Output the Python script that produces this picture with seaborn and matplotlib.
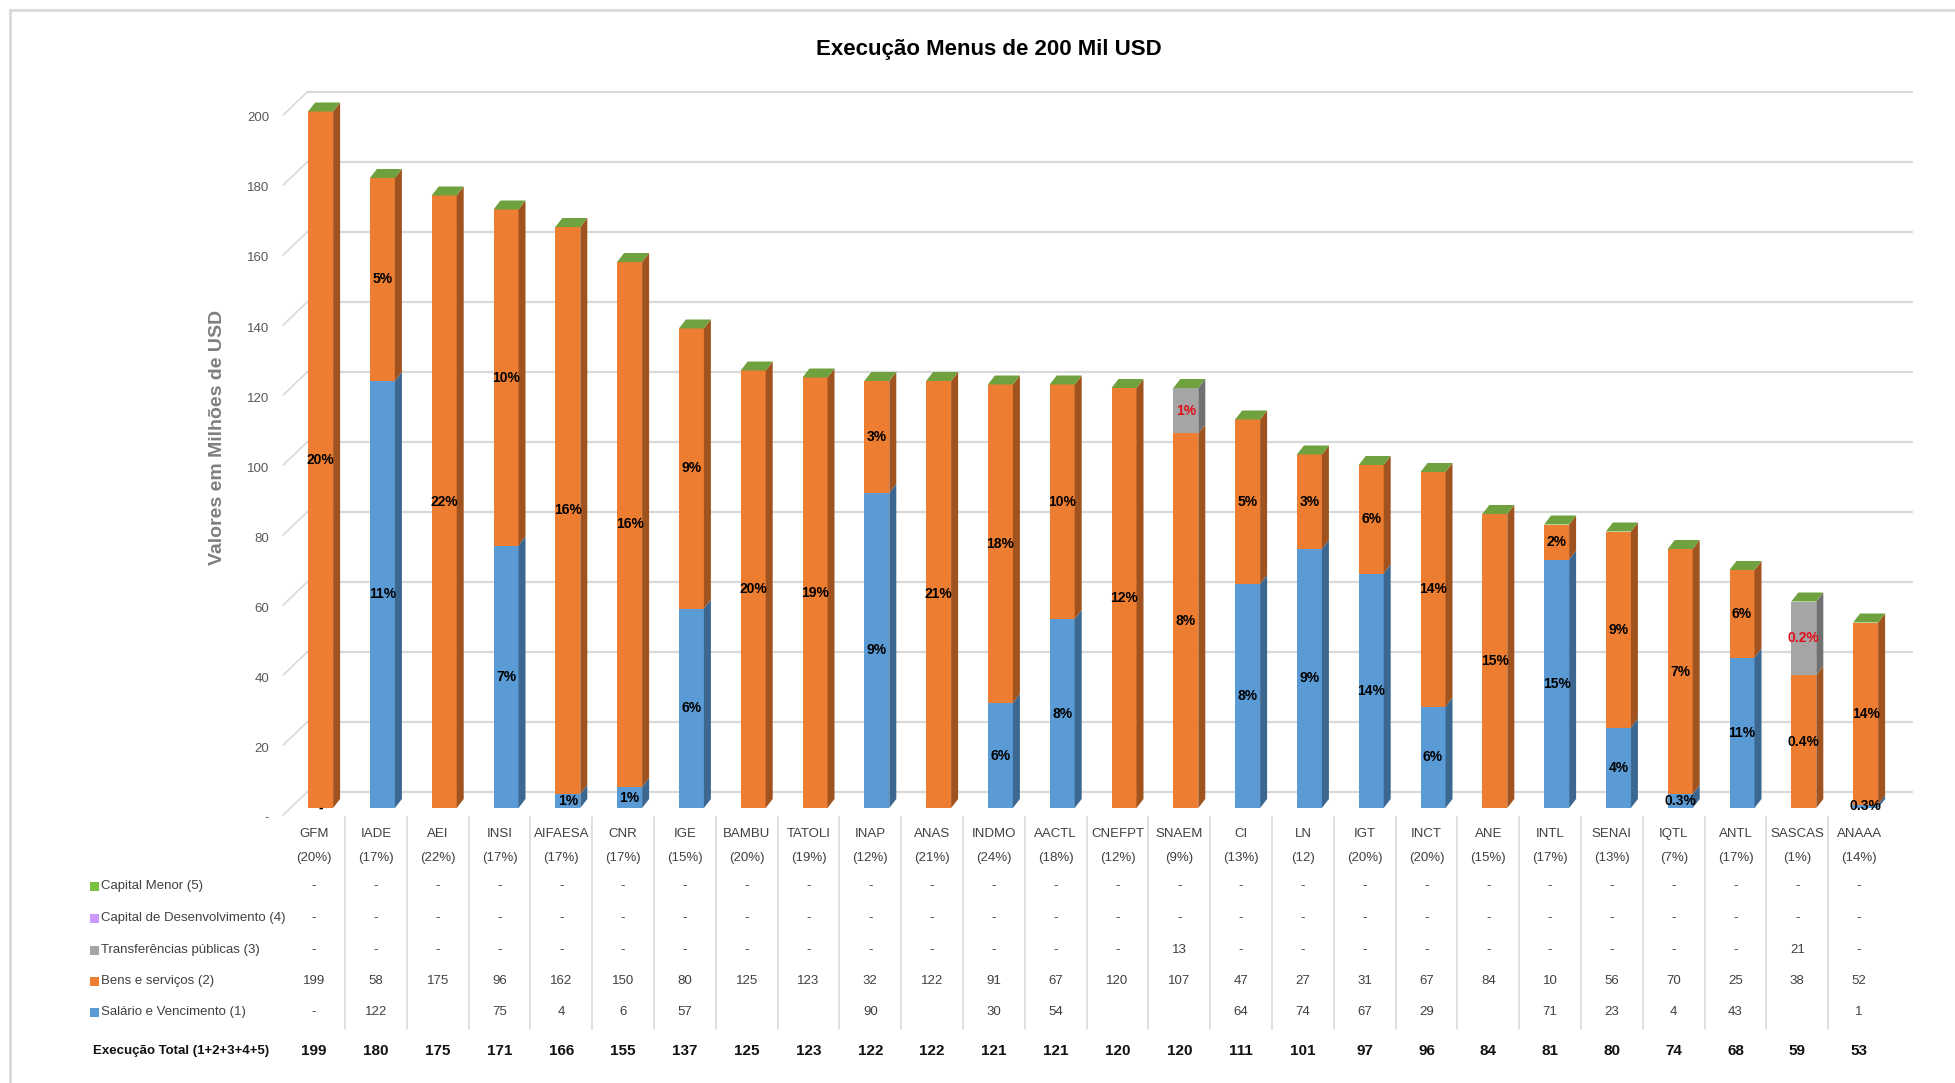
import matplotlib
matplotlib.use("Agg")
import matplotlib.pyplot as plt
from matplotlib.patches import Polygon, Rectangle
from matplotlib.lines import Line2D
from matplotlib.transforms import ScaledTranslation
import numpy as np
import pandas as pd
import seaborn as sns

# Chart data (values in millions of USD)
categories = ["GFM", "IADE", "AEI", "INSI", "AIFAESA", "CNR", "IGE", "BAMBU",
              "TATOLI", "INAP", "ANAS", "INDMO", "AACTL", "CNEFPT", "SNAEM", "CI",
              "LN", "IGT", "INCT", "ANE", "INTL", "SENAI", "IQTL", "ANTL",
              "SASCAS", "ANAAA"]
shares = ["(20%)", "(17%)", "(22%)", "(17%)", "(17%)", "(17%)", "(15%)", "(20%)",
          "(19%)", "(12%)", "(21%)", "(24%)", "(18%)", "(12%)", "(9%)", "(13%)",
          "(12)", "(20%)", "(20%)", "(15%)", "(17%)", "(13%)", "(7%)", "(17%)",
          "(1%)", "(14%)"]
salario = [0, 122, 0, 75, 4, 6, 57, 0, 0, 90, 0, 30, 54, 0, 0, 64,
           74, 67, 29, 0, 71, 23, 4, 43, 0, 1]
bens = [199, 58, 175, 96, 162, 150, 80, 125, 123, 32, 122, 91, 67, 120, 107, 47,
        27, 31, 67, 84, 10, 56, 70, 25, 38, 52]
transf = [0, 0, 0, 0, 0, 0, 0, 0, 0, 0, 0, 0, 0, 0, 13, 0,
          0, 0, 0, 0, 0, 0, 0, 0, 21, 0]
total = [199, 180, 175, 171, 166, 155, 137, 125, 123, 122, 122, 121, 121, 120, 120, 111,
         101, 97, 96, 84, 81, 80, 74, 68, 59, 53]

# what the data table shows in the salary / transfer rows
sal_table = ["-", "122", "", "75", "4", "6", "57", "", "", "90", "", "30", "54", "", "", "64",
             "74", "67", "29", "", "71", "23", "4", "43", "", "1"]
transf_table = ["-"] * 14 + ["13"] + ["-"] * 9 + ["21", "-"]

# percentage labels inside the segments
pct_sal = ["-", "11%", "", "7%", "1%", "1%", "6%", "", "", "9%", "", "6%", "8%", "", "", "8%",
           "9%", "14%", "6%", "", "15%", "4%", "0.3%", "11%", "", "0.3%"]
pct_bens = ["20%", "5%", "22%", "10%", "16%", "16%", "9%", "20%", "19%", "3%", "21%", "18%",
            "10%", "12%", "8%", "5%", "3%", "6%", "14%", "15%", "2%", "9%", "7%", "6%",
            "0.4%", "14%"]
pct_transf = [""] * 14 + ["1%"] + [""] * 9 + ["0.2%", ""]

yticks = list(range(0, 201, 20))

# colours
BLUE, BLUE_SIDE = "#5B9BD5", "#3B6790"
ORANGE, ORANGE_SIDE = "#ED7D31", "#A0531F"
GREY, GREY_SIDE = "#A5A5A5", "#707070"
GREEN_TOP = "#6FA23F"
GRID = "#D9D9D9"
TXT = "#404040"

sns.set_style("white")
FONT = ["Liberation Sans Narrow", "Liberation Sans", "DejaVu Sans"]
plt.rcParams["font.family"] = FONT

W, H = 1955, 1083
fig = plt.figure(figsize=(W / 100, H / 100), dpi=100)

# plot area (front plane of the 3D box) in pixels
left_px, right_px = 283.2, 1890.0
zero_px, top_px = 808.0, 108.0
ax = fig.add_axes([left_px / W, 1 - zero_px / H,
                   (right_px - left_px) / W, (zero_px - top_px) / H])
n = len(categories)
px_x = (right_px - left_px) / n
px_y = (zero_px - top_px) / 200

bar_w = 25 / px_x
xpos = np.arange(n) + 6.5 / px_x

df = pd.DataFrame({"pos": xpos, "sal": salario, "bens": bens, "transf": transf})
df["lvl1"] = df["sal"]
df["lvl2"] = df["sal"] + df["bens"]
df["lvl3"] = df["lvl2"] + df["transf"]

# stacked fronts: draw cumulative totals from the top layer down
for col, c in [("lvl3", GREY), ("lvl2", ORANGE), ("lvl1", BLUE)]:
    sns.barplot(data=df, x="pos", y=col, native_scale=True, color=c, width=bar_w,
                errorbar=None, linewidth=0, saturation=1, ax=ax, zorder=2)

# 3D side and top faces
ddx = 7 / px_x
ddy = 9 / px_y
for i in range(n):
    x0 = xpos[i] - bar_w / 2
    x1 = xpos[i] + bar_w / 2
    segs = [(0, df["lvl1"][i], BLUE_SIDE),
            (df["lvl1"][i], df["lvl2"][i], ORANGE_SIDE),
            (df["lvl2"][i], df["lvl3"][i], GREY_SIDE)]
    for lo, hi, c in segs:
        if hi - lo <= 0:
            continue
        ax.add_patch(Polygon([(x1, lo), (x1 + ddx, lo + ddy), (x1 + ddx, hi + ddy), (x1, hi)],
                             closed=True, fc=c, ec="none", clip_on=False, zorder=2))
    top = df["lvl3"][i]
    ax.add_patch(Polygon([(x0, top), (x0 + ddx, top + ddy), (x1 + ddx, top + ddy), (x1, top)],
                         closed=True, fc=GREEN_TOP, ec="none", clip_on=False, zorder=2))

# back wall gridlines and left wall diagonals
gx0 = -0.5 + 24 / px_x
gx1 = n - 0.5 + 22 / px_x
gdy = 16 / px_y
fdy = 7 / px_y
for v in yticks:
    ax.plot([gx0, gx1], [v + gdy, v + gdy], color=GRID, lw=1.6, zorder=0.5, clip_on=False)
    ax.plot([-0.5, gx0], [v - fdy, v + gdy], color=GRID, lw=1.2, zorder=0.5, clip_on=False)

# segment labels
for i in range(n):
    s, b, t = salario[i], bens[i], transf[i]
    if pct_sal[i]:
        ax.text(xpos[i], s / 2, pct_sal[i], ha="center", va="center", fontsize=10,
                fontweight="bold", color="black", zorder=5, clip_on=False)
    ax.text(xpos[i], s + b / 2, pct_bens[i], ha="center", va="center", fontsize=10,
            fontweight="bold", color="black", zorder=5)
    if pct_transf[i]:
        ax.text(xpos[i], s + b + t / 2, pct_transf[i], ha="center", va="center",
                fontsize=10, fontweight="bold", color="#E0101A", zorder=5)

ax.set_xlim(-0.5, n - 0.5)
ax.set_ylim(0, 200)
ax.set_xlabel("")
ax.set_ylabel("")
ax.set_xticks([])
ax.set_yticks(yticks)
ax.set_yticklabels(["-"] + [str(v) for v in yticks[1:]], color="#595959", fontsize=9.5)
ax.tick_params(axis="y", length=0, pad=10)
shift = ScaledTranslation(0, -9 / 100, fig.dpi_scale_trans)
for lab in ax.get_yticklabels():
    lab.set_transform(lab.get_transform() + shift)
for sp in ax.spines.values():
    sp.set_visible(False)
ax.patch.set_alpha(0)

# data table under the chart
xt = ax.get_xaxis_transform()


def row_y(px):
    return (zero_px - px) / (zero_px - top_px)


for k in range(n - 1):
    ax.plot([k + 0.5, k + 0.5], [row_y(817), row_y(1029)], transform=xt,
            color=GRID, lw=1.2, clip_on=False)

rows = [(886, ["-"] * n), (918, ["-"] * n), (950, transf_table),
        (981, [str(v) for v in bens]), (1012, sal_table)]
for i in range(n):
    ax.text(i, row_y(834), categories[i], transform=xt, ha="center", va="center",
            fontsize=9.5, color=TXT)
    ax.text(i, row_y(858), shares[i], transform=xt, ha="center", va="center",
            fontsize=9.5, color=TXT)
    for ypx, vals in rows:
        ax.text(i, row_y(ypx), vals[i], transform=xt, ha="center", va="center",
                fontsize=9.5, color=TXT)
    ax.text(i, row_y(1051), str(total[i]), transform=xt, ha="center", va="center",
            fontsize=11, fontweight="bold", color="#111111")

legend_rows = [("Capital Menor (5)", "#7CC242", 886),
               ("Capital de Desenvolvimento (4)", "#CC99FF", 918),
               ("Transferências públicas (3)", GREY, 950),
               ("Bens e serviços (2)", ORANGE, 981),
               ("Salário e Vencimento (1)", BLUE, 1012)]
for lab, c, ypx in legend_rows:
    fig.patches.append(Rectangle((90 / W, 1 - (ypx + 4.5) / H), 9 / W, 9 / H,
                                 transform=fig.transFigure, fc=c, ec="none"))
    fig.text(101 / W, 1 - ypx / H, lab, ha="left", va="center", fontsize=9.5, color=TXT)
fig.text(93 / W, 1 - 1051 / H, "Execução Total (1+2+3+4+5)", ha="left", va="center",
         fontsize=9.5, fontweight="bold", color="#111111")

# titles
fig.text(989 / W, 1 - 50 / H, "Execução Menus de 200 Mil USD", ha="center", va="center",
         fontsize=16, fontweight="bold", color="black")
fig.text(218 / W, 1 - 437 / H, "Valores em Milhões de USD", rotation=90, ha="center",
         va="center", fontsize=14, fontweight="bold", color="#7F7F7F",
         family=["Liberation Sans", "DejaVu Sans"])

# outer chart frame
fig.add_artist(Line2D([10 / W, 1], [1 - 10 / H, 1 - 10 / H], transform=fig.transFigure,
                      color=GRID, lw=2))
fig.add_artist(Line2D([10 / W, 10 / W], [0, 1 - 10 / H], transform=fig.transFigure,
                      color=GRID, lw=2))

fig.savefig("out.png", dpi=100)
plt.close(fig)
